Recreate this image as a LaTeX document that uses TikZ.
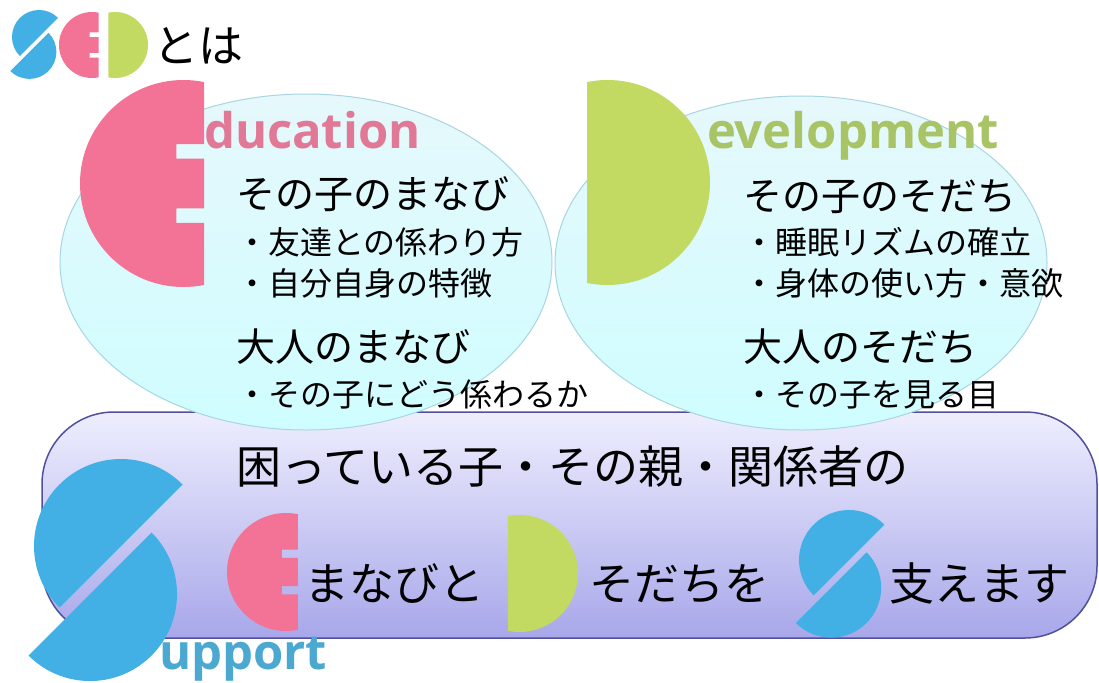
\documentclass[tikz,border=0pt]{standalone}
\usepackage{fontspec}
\newfontfamily\jp{Noto Sans CJK JP}
\newfontfamily\lat{Open Sans}
\definecolor{epink}{HTML}{F27396}
\definecolor{dgreen}{HTML}{C2D962}
\definecolor{sblue}{HTML}{42B0E4}
\definecolor{etext}{HTML}{E07896}
\definecolor{dtext}{HTML}{A8C466}
\definecolor{stext}{HTML}{4BA9D1}
\definecolor{elltop}{HTML}{E6F8FC}
\definecolor{ellbot}{HTML}{CFFDFF}
\definecolor{elledge}{HTML}{A8D6E0}
\definecolor{pantop}{HTML}{EEEEFE}
\definecolor{panbot}{HTML}{A8A7EA}
\definecolor{panedge}{HTML}{50509C}
\newcommand{\shapeE}[4]{%
\begin{scope}
\clip ({#1-#3-2},{#2-#3-2}) -- ({#1+0.2*#3},{#2-#3-2}) -- ({#1+0.2*#3},{#2-0.38*#3}) -- ({#1-0.07*#3},{#2-0.38*#3}) -- ({#1-0.07*#3},{#2-0.24*#3}) -- ({#1+0.2*#3},{#2-0.24*#3}) -- ({#1+0.2*#3},{#2+0.24*#3}) -- ({#1-0.07*#3},{#2+0.24*#3}) -- ({#1-0.07*#3},{#2+0.38*#3}) -- ({#1+0.2*#3},{#2+0.38*#3}) -- ({#1+0.2*#3},{#2+#3+2}) -- ({#1-#3-2},{#2+#3+2}) -- cycle;
\fill[#4] (#1,#2) circle[radius=#3];
\end{scope}}
\newcommand{\shapeD}[4]{%
\begin{scope}
\clip ({#1-0.2*#3},{#2-#3-2}) rectangle ({#1+#3+2},{#2+#3+2});
\fill[#4] (#1,#2) circle[radius=#3];
\end{scope}}
\newcommand{\shapeS}[3]{%
\fill[sblue] (#1,#2) ++(135:#3) arc[start angle=135, end angle=315, radius=#3] -- cycle;
\fill[sblue] ({#1-0.356*#3},{#2+0.552*#3}) ++(-45:#3) arc[start angle=-45, end angle=135, radius=#3] -- cycle;}
\tikzset{
  jtxt/.style={anchor=base west, inner sep=0pt, outer sep=0pt, text=black},
  headtxt/.style={jtxt, font=\jp\fontsize{39}{39}\selectfont},
  itemtxt/.style={jtxt, font=\jp\fontsize{32}{32}\selectfont},
  bigtxt/.style={jtxt, font=\jp\fontsize{45}{45}\selectfont},
  lattxt/.style={anchor=base west, inner sep=0pt, outer sep=0pt, font=\lat\bfseries\fontsize{49}{49}\selectfont},
  bubble/.style={draw=elledge, line width=1pt, top color=elltop, bottom color=ellbot},
  panel/.style={draw=panedge, line width=1.5pt, top color=pantop, bottom color=panbot, rounded corners=72pt}
}
\begin{document}
\begin{tikzpicture}[x=1pt,y=-1pt]
\fill[white] (0,0) rectangle (1099,682);
\useasboundingbox (0,0) rectangle (1099,682);
% logo
\shapeS{39}{37}{27}
\shapeE{92}{45}{33}{epink}
\shapeD{115}{45}{33}{dgreen}
\node[bigtxt] (toha) at (153,63) {とは};
% lower panel
\draw[panel] (42,412) rectangle (1097,638);
% bubbles
\draw[bubble] (306,262) ellipse[x radius=246, y radius=168];
\draw[bubble] (801,263) ellipse[x radius=246, y radius=167];
% big letters
\shapeE{183.5}{183.5}{103.5}{epink}
\shapeD{607.5}{182.5}{102.5}{dgreen}
\node[lattxt, text=etext] (edu) at (204,148) {ducation};
\node[lattxt, text=dtext] (dev) at (707,148) {evelopment};
% left bubble text
\node[headtxt] (l1) at (236,208) {その子のまなび};
\node[itemtxt] (l2) at (236,254) {・友達との係わり方};
\node[itemtxt] (l3) at (236,295) {・自分自身の特徴};
\node[headtxt] (l4) at (236,361) {大人のまなび};
\node[itemtxt] (l5) at (236,406) {・その子にどう係わるか};
% right bubble text
\node[headtxt] (r1) at (743,210) {その子のそだち};
\node[itemtxt] (r2) at (743,254) {・睡眠リズムの確立};
\node[itemtxt] (r3) at (743,295) {・身体の使い方・意欲};
\node[headtxt] (r4) at (743,361) {大人のそだち};
\node[itemtxt] (r5) at (743,406) {・その子を見る目};
% panel text
\node[bigtxt] (p1) at (236,483) {困っている子・その親・関係者の};
\shapeE{286}{572}{59}{epink}
\node[bigtxt] (p2) at (304,600) {まなびと};
\shapeD{519.5}{573.5}{58.5}{dgreen}
\node[bigtxt] (p3) at (589,600) {そだちを};
\shapeS{849}{560}{50}
\node[bigtxt] (p4) at (889,600) {支えます};
% big S
\node[lattxt, text=stext] (sup) at (159,669) {upport};
\shapeS{121}{546}{87}
\end{tikzpicture}
\end{document}
